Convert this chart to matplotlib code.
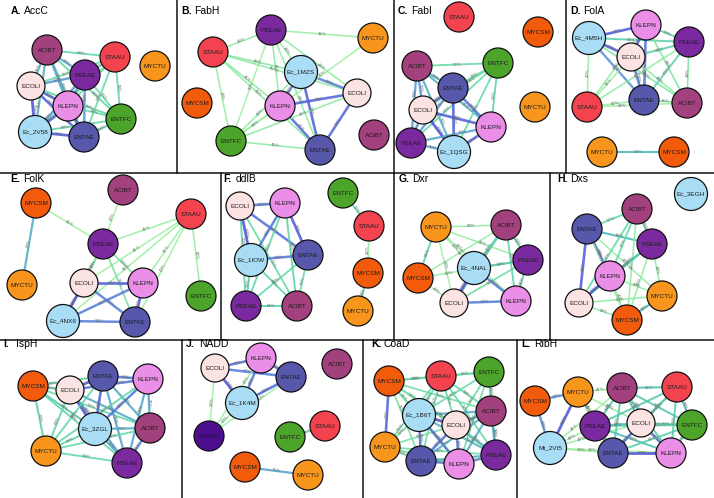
import numpy as np
import matplotlib
matplotlib.use("Agg")
import matplotlib.pyplot as plt
from matplotlib.colors import LinearSegmentedColormap
from matplotlib.patches import Circle

plt.rcParams['font.family'] = ['Liberation Sans', 'DejaVu Sans']

# panel titles
panel_letters = ["A", "B", "C", "D", "E", "F", "G", "H", "I", "J", "K", "L"]
panel_genes = ["AccC", "FabH", "FabI", "FolA", "FolK", "ddlB",
               "Dxr", "Dxs", "IspH", "NADD", "CoaD", "RibH"]

# pairwise sequence identity (%) shown on the network edges
edges_A = [("ACIBT", "STAAU", 58), ("ACIBT", "PSEAE", 74), ("ACIBT", "ECOLI", 71),
           ("ACIBT", "KLEPN", 71), ("ACIBT", "Ec_2V58", 71), ("ACIBT", "ENTAE", 74),
           ("ACIBT", "ENTFC", 58), ("STAAU", "PSEAE", 54), ("STAAU", "ECOLI", 55),
           ("STAAU", "KLEPN", 56), ("STAAU", "ENTFC", 58), ("STAAU", "Ec_2V58", 54),
           ("STAAU", "ENTAE", 56), ("PSEAE", "ECOLI", 80), ("PSEAE", "KLEPN", 80),
           ("PSEAE", "Ec_2V58", 80), ("PSEAE", "ENTAE", 80), ("PSEAE", "ENTFC", 56),
           ("ECOLI", "KLEPN", 95), ("ECOLI", "Ec_2V58", 100), ("ECOLI", "ENTAE", 94),
           ("ECOLI", "ENTFC", 58), ("KLEPN", "Ec_2V58", 95), ("KLEPN", "ENTAE", 93),
           ("KLEPN", "ENTFC", 58), ("Ec_2V58", "ENTAE", 98), ("Ec_2V58", "ENTFC", 58),
           ("ENTAE", "ENTFC", 59)]
edges_B = [("PSEAE", "STAAU", 45), ("PSEAE", "Ec_1MZS", 43), ("PSEAE", "KLEPN", 45),
           ("PSEAE", "ENTFC", 40), ("PSEAE", "ENTAE", 44), ("PSEAE", "MYCTU", 42),
           ("PSEAE", "ECOLI", 44), ("STAAU", "Ec_1MZS", 46), ("STAAU", "KLEPN", 45),
           ("STAAU", "ENTFC", 43), ("STAAU", "ENTAE", 45), ("STAAU", "ECOLI", 45),
           ("Ec_1MZS", "ECOLI", 86), ("Ec_1MZS", "KLEPN", 84), ("Ec_1MZS", "ENTAE", 94),
           ("Ec_1MZS", "ENTFC", 44), ("KLEPN", "ECOLI", 94), ("KLEPN", "ENTAE", 91),
           ("KLEPN", "ENTFC", 44), ("ENTFC", "MYCTU", 40), ("ECOLI", "ENTAE", 93),
           ("ECOLI", "ENTFC", 45), ("ENTFC", "ENTAE", 45)]
edges_C = [("ACIBT", "ENTFC", 56), ("ACIBT", "ENTAE", 73), ("ACIBT", "ECOLI", 79),
           ("ACIBT", "PSEAE", 78), ("ACIBT", "KLEPN", 71), ("ACIBT", "Ec_1QSG", 72),
           ("ENTFC", "ENTAE", 58), ("ENTFC", "ECOLI", 54), ("ENTFC", "KLEPN", 59),
           ("ENTFC", "PSEAE", 56), ("ENTFC", "Ec_1QSG", 56), ("ENTAE", "ECOLI", 92),
           ("ENTAE", "KLEPN", 90), ("ENTAE", "PSEAE", 78), ("ENTAE", "Ec_1QSG", 96),
           ("ECOLI", "KLEPN", 96), ("ECOLI", "PSEAE", 76), ("ECOLI", "Ec_1QSG", 100),
           ("KLEPN", "PSEAE", 75), ("KLEPN", "Ec_1QSG", 96), ("PSEAE", "Ec_1QSG", 75)]
edges_D = [("Ec_4M5H", "KLEPN", 96), ("Ec_4M5H", "ECOLI", 98), ("Ec_4M5H", "ENTAE", 80),
           ("Ec_4M5H", "STAAU", 42), ("Ec_4M5H", "ACIBT", 48), ("Ec_4M5H", "PSEAE", 61),
           ("KLEPN", "PSEAE", 59), ("KLEPN", "ECOLI", 97), ("KLEPN", "ENTAE", 90),
           ("KLEPN", "STAAU", 45), ("KLEPN", "ACIBT", 48), ("ECOLI", "PSEAE", 62),
           ("ECOLI", "ENTAE", 90), ("ECOLI", "STAAU", 41), ("ECOLI", "ACIBT", 45),
           ("PSEAE", "ENTAE", 60), ("PSEAE", "ACIBT", 48), ("PSEAE", "STAAU", 44),
           ("ENTAE", "STAAU", 42), ("ENTAE", "ACIBT", 46), ("STAAU", "ACIBT", 42),
           ("MYCTU", "MYCSM", 67)]
edges_E = [("MYCSM", "MYCTU", 72), ("MYCSM", "PSEAE", 41), ("ACIBT", "PSEAE", 40),
           ("STAAU", "PSEAE", 41), ("STAAU", "ECOLI", 41), ("STAAU", "KLEPN", 41),
           ("STAAU", "Ec_4NX6", 41), ("STAAU", "ENTAE", 40), ("STAAU", "ENTFC", 42),
           ("PSEAE", "ECOLI", 50), ("PSEAE", "KLEPN", 52), ("PSEAE", "Ec_4NX6", 50),
           ("PSEAE", "ENTAE", 51), ("ECOLI", "KLEPN", 96), ("ECOLI", "ENTAE", 86),
           ("ECOLI", "Ec_4NX6", 100), ("KLEPN", "Ec_4NX6", 86), ("KLEPN", "ENTAE", 95),
           ("Ec_4NX6", "ENTAE", 86)]
edges_F = [("ECOLI", "KLEPN", 89), ("ECOLI", "Ec_1IOW", 100), ("ECOLI", "ENTAE", 90),
           ("ECOLI", "PSEAE", 59), ("ECOLI", "ACIBT", 56), ("KLEPN", "Ec_1IOW", 88),
           ("KLEPN", "ENTAE", 97), ("KLEPN", "PSEAE", 58), ("KLEPN", "ACIBT", 59),
           ("Ec_1IOW", "ENTAE", 88), ("Ec_1IOW", "PSEAE", 59), ("Ec_1IOW", "ACIBT", 59),
           ("ENTAE", "PSEAE", 57), ("ENTAE", "ACIBT", 56), ("PSEAE", "ACIBT", 61),
           ("ENTFC", "STAAU", 56), ("STAAU", "MYCSM", 42), ("MYCSM", "MYCTU", 64)]
edges_G = [("MYCTU", "ACIBT", 43), ("MYCTU", "MYCSM", 61), ("MYCTU", "PSEAE", 42),
           ("MYCTU", "Ec_4NAL", 40), ("MYCTU", "ECOLI", 40), ("MYCTU", "KLEPN", 42),
           ("MYCSM", "ECOLI", 40), ("MYCSM", "ACIBT", 42), ("MYCSM", "PSEAE", 42),
           ("ACIBT", "PSEAE", 62), ("ACIBT", "Ec_4NAL", 60), ("ACIBT", "KLEPN", 59),
           ("ACIBT", "ECOLI", 60), ("PSEAE", "Ec_4NAL", 63), ("PSEAE", "KLEPN", 61),
           ("PSEAE", "ECOLI", 54), ("Ec_4NAL", "ECOLI", 100), ("Ec_4NAL", "KLEPN", 87),
           ("ECOLI", "KLEPN", 87)]
edges_H = [("ENTAE", "ACIBT", 57), ("ENTAE", "PSEAE", 69), ("ENTAE", "KLEPN", 97),
           ("ENTAE", "ECOLI", 96), ("ENTAE", "MYCTU", 43), ("ENTAE", "MYCSM", 43),
           ("ACIBT", "PSEAE", 60), ("ACIBT", "KLEPN", 57), ("ACIBT", "ECOLI", 57),
           ("ACIBT", "MYCSM", 44), ("PSEAE", "KLEPN", 69), ("PSEAE", "ECOLI", 62),
           ("PSEAE", "MYCTU", 44), ("PSEAE", "MYCSM", 43), ("KLEPN", "ECOLI", 98),
           ("KLEPN", "MYCTU", 43), ("KLEPN", "MYCSM", 43), ("ECOLI", "MYCTU", 44),
           ("ECOLI", "MYCSM", 44), ("MYCTU", "MYCSM", 68)]
edges_I = [("MYCSM", "ECOLI", 59), ("MYCSM", "ENTAE", 59), ("MYCSM", "MYCTU", 62),
           ("MYCSM", "Ec_3ZGL", 64), ("MYCSM", "PSEAE", 58), ("MYCSM", "ACIBT", 56),
           ("ECOLI", "ENTAE", 95), ("ECOLI", "KLEPN", 89), ("ECOLI", "Ec_3ZGL", 100),
           ("ECOLI", "ACIBT", 73), ("ECOLI", "PSEAE", 74), ("ECOLI", "MYCTU", 59),
           ("ENTAE", "KLEPN", 90), ("ENTAE", "Ec_3ZGL", 95), ("ENTAE", "ACIBT", 73),
           ("ENTAE", "PSEAE", 75), ("ENTAE", "MYCTU", 58), ("KLEPN", "Ec_3ZGL", 88),
           ("KLEPN", "ACIBT", 75), ("KLEPN", "PSEAE", 74), ("KLEPN", "MYCTU", 58),
           ("Ec_3ZGL", "ACIBT", 72), ("Ec_3ZGL", "PSEAE", 74), ("Ec_3ZGL", "MYCTU", 59),
           ("ACIBT", "PSEAE", 85), ("ACIBT", "MYCTU", 57), ("MYCTU", "PSEAE", 58)]
edges_J = [("ECOLI", "KLEPN", 90), ("ECOLI", "ENTAE", 87), ("ECOLI", "Ec_1K4M", 100),
           ("ECOLI", "PSEAE", 40), ("KLEPN", "ENTAE", 90), ("KLEPN", "Ec_1K4M", 88),
           ("KLEPN", "PSEAE", 40), ("ENTAE", "Ec_1K4M", 93), ("ENTAE", "PSEAE", 40),
           ("Ec_1K4M", "PSEAE", 40), ("ENTFC", "STAAU", 51), ("MYCSM", "MYCTU", 75)]
edges_K = [("MYCSM", "STAAU", 57), ("STAAU", "ENTFC", 54), ("MYCSM", "MYCTU", 93),
           ("MYCSM", "Ec_1B6T", 51), ("MYCSM", "ECOLI", 51), ("MYCSM", "ENTAE", 52),
           ("MYCSM", "KLEPN", 51), ("MYCSM", "ACIBT", 53), ("MYCSM", "PSEAE", 52),
           ("MYCSM", "ENTFC", 55), ("MYCTU", "Ec_1B6T", 52), ("MYCTU", "ECOLI", 52),
           ("MYCTU", "ENTAE", 52), ("MYCTU", "KLEPN", 51), ("MYCTU", "PSEAE", 53),
           ("MYCTU", "STAAU", 55), ("STAAU", "Ec_1B6T", 56), ("STAAU", "ECOLI", 56),
           ("STAAU", "ACIBT", 58), ("STAAU", "PSEAE", 57), ("STAAU", "ENTAE", 55),
           ("ENTFC", "Ec_1B6T", 55), ("ENTFC", "ACIBT", 59), ("ENTFC", "ECOLI", 55),
           ("ENTFC", "PSEAE", 58), ("ENTFC", "KLEPN", 54), ("Ec_1B6T", "ECOLI", 100),
           ("Ec_1B6T", "ENTAE", 90), ("Ec_1B6T", "KLEPN", 89), ("Ec_1B6T", "ACIBT", 73),
           ("Ec_1B6T", "PSEAE", 70), ("ECOLI", "ENTAE", 90), ("ECOLI", "KLEPN", 89),
           ("ECOLI", "ACIBT", 73), ("ECOLI", "PSEAE", 70), ("ENTAE", "KLEPN", 86),
           ("ENTAE", "ACIBT", 72), ("ENTAE", "PSEAE", 71), ("KLEPN", "ACIBT", 72),
           ("KLEPN", "PSEAE", 76), ("ACIBT", "PSEAE", 74)]
edges_L = [("MYCSM", "MYCTU", 82), ("MYCSM", "Mt_2VI5", 83), ("MYCTU", "Mt_2VI5", 100),
           ("MYCTU", "ACIBT", 41), ("MYCTU", "PSEAE", 44), ("MYCTU", "ECOLI", 43),
           ("MYCTU", "ENTAE", 42), ("Mt_2VI5", "PSEAE", 42), ("Mt_2VI5", "ENTAE", 40),
           ("Mt_2VI5", "ACIBT", 41), ("Mt_2VI5", "KLEPN", 40), ("Mt_2VI5", "ECOLI", 42),
           ("ACIBT", "STAAU", 65), ("ACIBT", "PSEAE", 64), ("ACIBT", "ECOLI", 60),
           ("ACIBT", "ENTFC", 63), ("ACIBT", "ENTAE", 62), ("ACIBT", "KLEPN", 61),
           ("STAAU", "ENTFC", 68), ("STAAU", "ECOLI", 62), ("STAAU", "PSEAE", 63),
           ("STAAU", "ENTAE", 63), ("STAAU", "KLEPN", 62), ("PSEAE", "ECOLI", 67),
           ("PSEAE", "ENTAE", 67), ("PSEAE", "KLEPN", 66), ("PSEAE", "ENTFC", 62),
           ("ECOLI", "ENTFC", 60), ("ECOLI", "ENTAE", 89), ("ECOLI", "KLEPN", 90),
           ("ENTFC", "ENTAE", 61), ("ENTFC", "KLEPN", 65), ("ENTAE", "KLEPN", 100)]
panel_edges = [edges_A, edges_B, edges_C, edges_D, edges_E, edges_F,
               edges_G, edges_H, edges_I, edges_J, edges_K, edges_L]

# node colours by organism
node_colors = {"ACIBT": "#a3417f", "STAAU": "#f2434f", "MYCTU": "#f7951d",
               "MYCSM": "#f25a0c", "PSEAE": "#7a2a9e", "ECOLI": "#fbe3e3",
               "KLEPN": "#ea8ee8", "ENTAE": "#5757ab", "ENTFC": "#4ca52a"}
struct_color = "#a9ddf6"

# network layouts, pixel positions in the figure
layout_A = {"ACIBT": (47, 50), "STAAU": (115, 57), "MYCTU": (155, 66), "PSEAE": (85, 75),
            "ECOLI": (31, 86), "KLEPN": (68, 106), "ENTFC": (121, 119),
            "Ec_2V58": (35, 132), "ENTAE": (84, 137)}
layout_B = {"PSEAE": (271, 30), "STAAU": (213, 52), "Ec_1MZS": (301, 72), "ECOLI": (357, 93),
            "MYCSM": (197, 103), "KLEPN": (280, 106), "ENTFC": (231, 141),
            "ENTAE": (320, 150), "MYCTU": (373, 38), "ACIBT": (374, 135)}
layout_C = {"STAAU": (459, 17), "MYCSM": (538, 32), "ACIBT": (417, 66), "ENTFC": (498, 63),
            "ENTAE": (453, 88), "ECOLI": (423, 110), "MYCTU": (535, 107), "KLEPN": (491, 127),
            "PSEAE": (411, 143), "Ec_1QSG": (454, 152)}
layout_D = {"KLEPN": (646, 25), "Ec_4M5H": (589, 38), "PSEAE": (689, 42), "ECOLI": (631, 57),
            "STAAU": (587, 107), "ENTAE": (644, 100), "ACIBT": (687, 103),
            "MYCTU": (602, 152), "MYCSM": (674, 152)}
layout_E = {"MYCSM": (36, 203), "ACIBT": (123, 190), "STAAU": (191, 214), "PSEAE": (103, 244),
            "MYCTU": (22, 285), "ECOLI": (84, 283), "KLEPN": (143, 283), "ENTFC": (201, 296),
            "Ec_4NX6": (63, 321), "ENTAE": (135, 322)}
layout_F = {"ECOLI": (240, 206), "KLEPN": (285, 203), "ENTFC": (343, 193), "STAAU": (369, 226),
            "Ec_1IOW": (251, 260), "ENTAE": (308, 255), "MYCSM": (368, 273),
            "PSEAE": (246, 306), "ACIBT": (297, 306), "MYCTU": (358, 311)}
layout_G = {"MYCTU": (436, 227), "ACIBT": (506, 225), "PSEAE": (528, 260),
            "Ec_4NAL": (474, 268), "MYCSM": (418, 278), "ECOLI": (454, 303), "KLEPN": (516, 301)}
layout_H = {"Ec_3EGH": (691, 194), "ACIBT": (637, 209), "ENTAE": (587, 229),
            "PSEAE": (652, 244), "KLEPN": (610, 276), "MYCTU": (662, 296),
            "ECOLI": (579, 303), "MYCSM": (627, 320)}
layout_I = {"ENTAE": (103, 376), "KLEPN": (148, 379), "MYCSM": (33, 386), "ECOLI": (70, 390),
            "Ec_3ZGL": (95, 429), "ACIBT": (150, 428), "MYCTU": (46, 451), "PSEAE": (127, 463)}
layout_J = {"KLEPN": (261, 358), "ECOLI": (215, 368), "ACIBT": (337, 364), "ENTAE": (291, 377),
            "Ec_1K4M": (242, 403), "STAAU": (325, 426), "PSEAE": (209, 436),
            "ENTFC": (290, 437), "MYCSM": (245, 467), "MYCTU": (308, 475)}
layout_K = {"MYCSM": (389, 381), "STAAU": (441, 376), "ENTFC": (489, 372),
            "Ec_1B6T": (419, 415), "ACIBT": (491, 411), "ECOLI": (456, 425),
            "MYCTU": (385, 447), "PSEAE": (496, 455), "ENTAE": (421, 461), "KLEPN": (459, 464)}
layout_L = {"MYCTU": (578, 392), "ACIBT": (622, 388), "STAAU": (677, 387), "MYCSM": (535, 401),
            "PSEAE": (595, 426), "ECOLI": (641, 423), "ENTFC": (692, 425),
            "Mt_2VI5": (550, 448), "ENTAE": (613, 453), "KLEPN": (671, 453)}
layouts = [layout_A, layout_B, layout_C, layout_D, layout_E, layout_F,
           layout_G, layout_H, layout_I, layout_J, layout_K, layout_L]

title_pos = [(11, 14), (181, 14), (398, 14), (570, 14),
             (10, 182), (223, 182), (399, 182), (557, 182),
             (3, 347), (186, 347), (371, 347), (521, 347)]

edge_cmap = LinearSegmentedColormap.from_list(
    "ident", [(0.0, "#98f09c"), (0.3, "#5ad6a4"), (0.45, "#48bcb0"),
              (0.65, "#5494d8"), (1.0, "#4a4ddb")])


def radius(name):
    if "_" in name:
        return 16.5
    return 14 if name == "ECOLI" else 15


W, H = 714, 498
fig = plt.figure(figsize=(W / 100, H / 100), dpi=100)
fig.patch.set_facecolor("white")
ax = fig.add_axes([0, 0, 1, 1])
ax.set_xlim(0, W)
ax.set_ylim(H, 0)
ax.axis("off")

# panel dividers
lc = "#111111"
ax.plot([0, W], [173, 173], color=lc, lw=1.1)
ax.plot([0, W], [340, 340], color=lc, lw=1.1)
for x in [177, 394, 566]:
    ax.plot([x, x], [0, 173], color=lc, lw=1.1)
for x in [221, 394, 550]:
    ax.plot([x, x], [173, 340], color=lc, lw=1.1)
for x in [182, 363, 517]:
    ax.plot([x, x], [340, H], color=lc, lw=1.1)

for k in range(12):
    pos = layouts[k]
    for a, b, v in panel_edges[k]:
        x1, y1 = pos[a]
        x2, y2 = pos[b]
        t = (v - 40) / 60.0
        ax.plot([x1, x2], [y1, y2], color=edge_cmap(t), lw=1.1 + 0.9 * t,
                alpha=0.85, zorder=2, solid_capstyle="butt")
        # put the label on a free stretch of the edge, not under a node
        lx, ly = (x1 + x2) / 2, (y1 + y2) / 2
        for f in [0.5, 0.42, 0.58, 0.35, 0.65, 0.28, 0.72]:
            px, py = x1 + f * (x2 - x1), y1 + f * (y2 - y1)
            if all(np.hypot(px - nx, py - ny) > radius(nm) + 3 for nm, (nx, ny) in pos.items()):
                lx, ly = px, py
                break
        ang = np.degrees(np.arctan2(-(y2 - y1), x2 - x1))
        if ang > 90:
            ang -= 180
        if ang < -90:
            ang += 180
        ax.text(lx, ly, "%d%%" % v, fontsize=3.2, color="#6e6e6e",
                ha="center", va="center", rotation=ang, rotation_mode="anchor", zorder=3)
    for name, (x, y) in pos.items():
        col = struct_color if "_" in name else node_colors[name]
        if k == 9 and name == "PSEAE":
            col = "#4c0d8e"
        ax.add_patch(Circle((x, y), radius(name), facecolor=col, edgecolor="#111111",
                            lw=0.9, zorder=4))
        ax.text(x, y, name, fontsize=4.6, color="#1c1c1c", ha="center", va="center", zorder=5)
    tx, ty = title_pos[k]
    ax.text(tx, ty, panel_letters[k] + ".", fontsize=7.5, fontweight="bold",
            ha="left", va="baseline", zorder=6)
    ax.text(tx + 13, ty, panel_genes[k], fontsize=7.5, ha="left", va="baseline", zorder=6)

fig.savefig("out.png", dpi=100)
